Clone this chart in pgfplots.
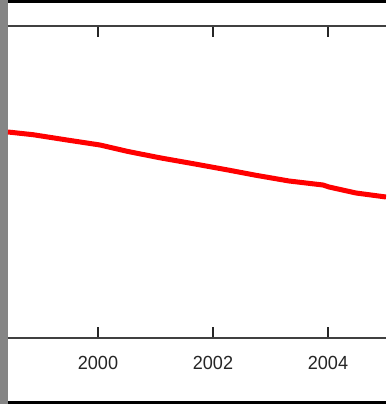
\documentclass[border=0pt]{standalone}
\usepackage{pgfplots}
\pgfplotsset{compat=1.18}
\usepackage{fontspec}
\setmainfont{Liberation Sans}
\begin{document}
\begin{tikzpicture}
\fill[black] (0,0) rectangle (386pt,404pt);
\fill[white] (8pt,3pt) rectangle (386pt,401pt);
\fill[black!48] (0,0) rectangle (8pt,404pt);
\begin{axis}[
  at={(8pt,66pt)}, anchor=south west,
  scale only axis, width=378pt, height=312pt,
  xmin=1998.435, xmax=2005.009, ymin=0, ymax=312,
  axis x line=box, axis y line=none,
  ytick=\empty,
  xtick={2000,2002,2004},
  xticklabels={2000,2002,2004},
  xtick pos=both, xticklabel pos=lower,
  tick align=inside,
  major tick length=11pt,
  x tick style={line width=1.5pt, color=black!85},
  axis line style={line width=2pt, color=black!75},
  x axis line style={-},
  /pgf/number format/assume math mode=true,
  xticklabel style={font=\fontsize{19}{19}\selectfont, text=black!85, anchor=base, yshift=-31pt, xscale=0.95},
]
\addplot[red, line width=5pt, line join=round] coordinates {
(1998.435,206)
(1998.870,203.3)
(1999.461,198)
(2000.035,193)
(2000.522,186.5)
(2001.096,180)
(2001.687,174)
(2002.261,168)
(2002.748,162.7)
(2003.322,157)
(2003.913,153)
(2004.017,151)
(2004.487,145)
(2005.009,141)
};
\end{axis}
\pgfresetboundingbox
\useasboundingbox (0,0) rectangle (386pt,404pt);
\end{tikzpicture}
\end{document}
